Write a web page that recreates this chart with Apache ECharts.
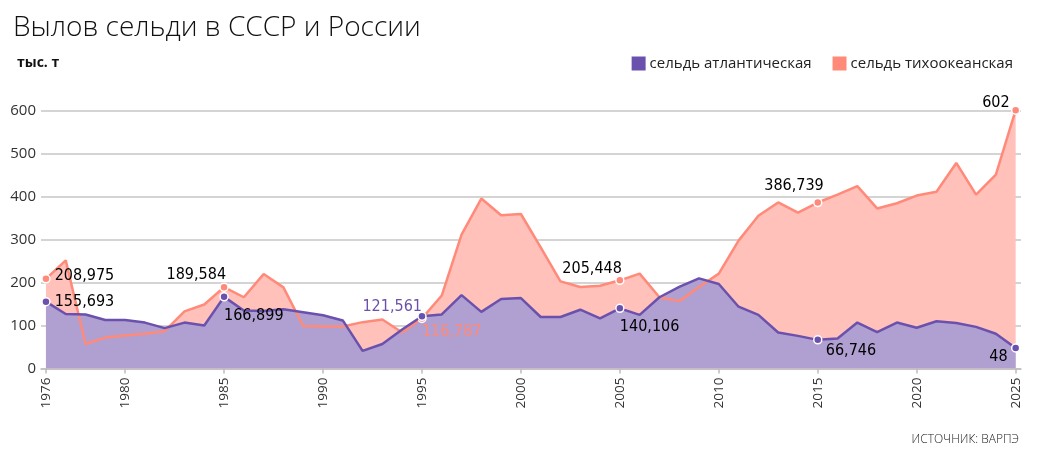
<!DOCTYPE html>
<html>
<head>
<meta charset="utf-8">
<script src="https://cdn.jsdelivr.net/npm/echarts@6/dist/echarts.min.js"></script>
<style>
  html, body { margin: 0; padding: 0; background: #fff; }
  #chart { width: 1037px; height: 456px; }
</style>
</head>
<body>
<div id="chart"></div>
<script>
// годы и улов, тыс. т
const years = [];
for (let y = 1976; y <= 2025; y++) years.push(y);

const pacific = [
  208.975, 252, 57, 72, 77, 81, 87, 133, 149, 189.584,
  166, 220, 189, 99, 98, 98, 108, 114, 84, 116.787,
  170, 312, 396, 357, 360, 282, 203, 190, 193, 205.448,
  221, 166, 157, 190, 221, 298, 356, 387, 363, 386.739,
  405, 425, 373, 385, 403, 412, 479, 405, 452, 602
];

const atlantic = [
  155.693, 127, 126, 113, 113, 107, 94, 107, 100, 166.899,
  135, 134, 138, 131, 124, 112, 41, 57, 91, 121.561,
  126, 171, 132, 162, 164, 120, 120, 137, 117, 140.106,
  125, 166, 190, 210, 197, 144, 125, 84, 76, 66.746,
  70, 107, 85, 107, 95, 110, 106, 97, 81, 48
];

const labelYears = [1976, 1985, 1995, 2005, 2015, 2025];
const xTickYears = [1976, 1980, 1985, 1990, 1995, 2000, 2005, 2010, 2015, 2020, 2025];

const PURPLE = '#6a51ad';
const PURPLE_FILL = '#b09fd1';
const PINK = '#ff8a79';
const PINK_FILL = '#ffc1b9';
const LABEL_FONT = '"DejaVu Sans Condensed", "DejaVu Sans", sans-serif';

// где ставить подписи у отмеченных точек
const pacificLabelPos = {
  1976: { position: 'right', offset: [0, -3] },
  1985: { position: 'top', align: 'right', offset: [2, 4] },
  1995: { position: 'bottom', align: 'left', offset: [0, -3], color: PINK },
  2005: { position: 'top', align: 'right', offset: [2, 5] },
  2015: { position: 'top', align: 'right', offset: [6, 0] },
  2025: { position: 'top', align: 'right', offset: [-6, 9] }
};
const atlanticLabelPos = {
  1976: { position: 'right', offset: [0, 0] },
  1985: { position: 'bottom', align: 'left', offset: [0, 2] },
  1995: { position: 'top', align: 'right', offset: [0, 7], color: PURPLE },
  2005: { position: 'bottom', align: 'left', offset: [0, 2] },
  2015: { position: 'bottom', align: 'left', offset: [8, -6] },
  2025: { position: 'bottom', align: 'right', offset: [-8, -8] }
};

function fmt(v) {
  return String(v).replace('.', ',');
}

function buildData(values, color, labelPos) {
  return years.map((y, i) => {
    if (labelYears.indexOf(y) < 0) return [y, values[i]];
    const lp = labelPos[y] || {};
    return {
      value: [y, values[i]],
      symbol: 'circle',
      symbolSize: 8,
      itemStyle: { color: color, borderColor: '#fff', borderWidth: 1.5 },
      label: {
        show: true,
        position: lp.position,
        align: lp.align,
        offset: lp.offset || [0, 0],
        distance: 4,
        color: lp.color || '#000',
        fontFamily: LABEL_FONT,
        fontSize: 16,
        formatter: () => fmt(values[i])
      }
    };
  });
}

const areaData = (values) => years.map((y, i) => [y, values[i]]);

const chart = echarts.init(document.getElementById('chart'));

chart.setOption({
  animation: false,
  textStyle: { fontFamily: '"Open Sans", sans-serif' },
  title: [
    {
      text: 'Вылов сельди в СССР и России',
      left: 8, top: 9,
      textStyle: { fontSize: 28, fontWeight: 300, color: '#111' }
    },
    {
      text: 'тыс. т',
      left: 12, top: 51,
      textStyle: { fontSize: 14, fontWeight: 'bold', color: '#111' }
    },
    {
      text: 'ИСТОЧНИК: ВАРПЭ',
      right: 13, top: 429,
      textStyle: { fontSize: 12, fontWeight: 300, color: '#222' }
    }
  ],
  legend: {
    right: 19, top: 51,
    icon: 'rect',
    itemWidth: 14, itemHeight: 14,
    itemGap: 21,
    selectedMode: false,
    textStyle: { fontSize: 15, color: '#222', padding: [0, 0, 0, -1] },
    data: [
      { name: 'сельдь атлантическая', itemStyle: { color: PURPLE } },
      { name: 'сельдь тихоокеанская', itemStyle: { color: PINK } }
    ]
  },
  grid: { left: 41, right: 16, top: 111, bottom: 87.5 },
  xAxis: {
    type: 'value',
    min: 1975.75,
    max: 2025.27,
    splitLine: { show: false },
    axisLine: { show: true, lineStyle: { color: '#bdbdbd', width: 1.5 } },
    axisTick: {
      show: true, length: 5, customValues: xTickYears,
      lineStyle: { color: '#bdbdbd', width: 1.5 }
    },
    axisLabel: {
      customValues: xTickYears,
      rotate: 90,
      margin: 9,
      fontSize: 13.5,
      color: '#333',
      formatter: (v) => String(v)
    }
  },
  yAxis: {
    type: 'value',
    min: 0, max: 600, interval: 100,
    axisLine: { show: false },
    axisTick: { show: false },
    splitLine: { lineStyle: { color: '#c6c6c6', width: 1.5 } },
    axisLabel: { fontSize: 15, color: '#333', margin: 5 }
  },
  series: [
    {
      name: 'сельдь тихоокеанская',
      type: 'line', z: 1,
      symbol: 'none',
      lineStyle: { width: 0 },
      areaStyle: { color: PINK_FILL, opacity: 1 },
      data: areaData(pacific),
      silent: true
    },
    {
      name: 'сельдь атлантическая',
      type: 'line', z: 2,
      symbol: 'none',
      lineStyle: { width: 0 },
      areaStyle: { color: PURPLE_FILL, opacity: 1 },
      data: areaData(atlantic),
      silent: true
    },
    {
      name: 'сельдь тихоокеанская',
      type: 'line', z: 3,
      symbol: 'none',
      clip: false,
      color: PINK,
      lineStyle: { color: PINK, width: 2.5 },
      data: buildData(pacific, PINK, pacificLabelPos)
    },
    {
      name: 'сельдь атлантическая',
      type: 'line', z: 4,
      symbol: 'none',
      clip: false,
      color: PURPLE,
      lineStyle: { color: PURPLE, width: 2.5 },
      data: buildData(atlantic, PURPLE, atlanticLabelPos)
    }
  ]
});
</script>
</body>
</html>
